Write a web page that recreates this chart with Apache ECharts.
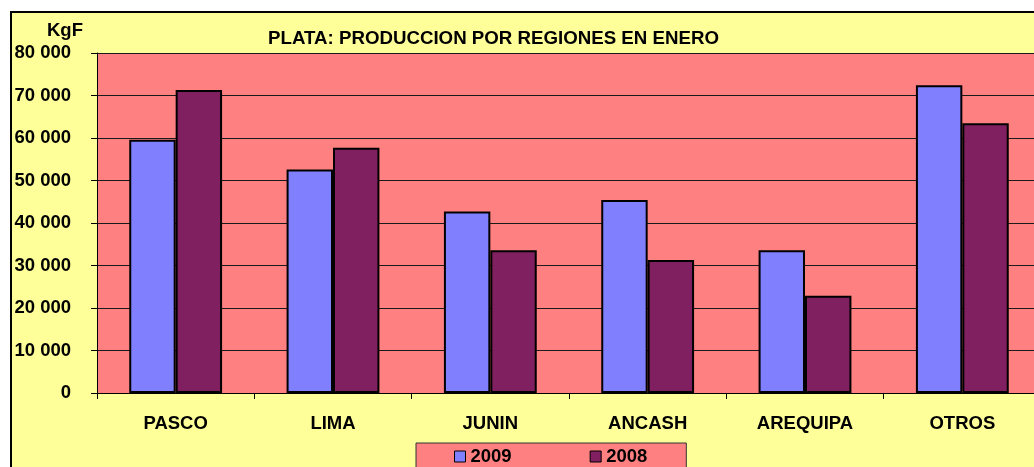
<!DOCTYPE html>
<html>
<head>
<meta charset="utf-8">
<script src="https://cdn.jsdelivr.net/npm/echarts@6/dist/echarts.min.js"></script>
<style>
  html, body { margin: 0; padding: 0; background: #fff; }
  #chart { width: 1034px; height: 467px; }
</style>
</head>
<body>
<div id="chart"></div>
<script>
const regiones = ['PASCO', 'LIMA', 'JUNIN', 'ANCASH', 'AREQUIPA', 'OTROS'];
const prod2009 = [59600, 52600, 42700, 45400, 33600, 72400];
const prod2008 = [71300, 57700, 33600, 31300, 22900, 63500];
const yTicks = [0, 10000, 20000, 30000, 40000, 50000, 60000, 70000, 80000];

const fuente = 'Liberation Sans, Arial, sans-serif';
const chart = echarts.init(document.getElementById('chart'));

// miles con espacio: 80 000
const fmt = v => String(v).replace(/\B(?=(\d{3})+(?!\d))/g, ' ');

chart.setOption({
  backgroundColor: '#fff',
  animation: false,
  graphic: [
    { type: 'rect', z: -10, shape: { x: 11, y: 12, width: 1100, height: 500 },
      style: { fill: '#FFFF99', stroke: '#000', lineWidth: 2 } },
    { type: 'text', x: 47, y: 21, style: { text: 'KgF', font: 'bold 18.5px ' + fuente, fill: '#000' } }
  ],
  title: {
    text: 'PLATA: PRODUCCION POR REGIONES EN ENERO',
    left: 268, top: 29, padding: 0,
    textStyle: { fontFamily: fuente, fontWeight: 'bold', fontSize: 18.7, color: '#000' }
  },
  legend: {
    left: 416, top: 443,
    padding: [4, 39, 8, 38],
    itemGap: 78,
    itemWidth: 11, itemHeight: 11,
    icon: 'rect',
    backgroundColor: '#FF8080',
    borderColor: '#333', borderWidth: 1,
    textStyle: { fontFamily: fuente, fontWeight: 'bold', fontSize: 18.5, color: '#000' },
    itemStyle: { borderColor: '#000', borderWidth: 1 },
    data: ['2009', '2008']
  },
  grid: {
    left: 97, top: 53, width: 944, bottom: 74,
    outerBoundsMode: 'none',
    show: true, backgroundColor: '#FF8080', borderWidth: 0
  },
  xAxis: {
    type: 'category',
    data: regiones,
    axisLine: { lineStyle: { color: '#000', width: 1 } },
    axisTick: { show: true, length: 6, lineStyle: { color: '#000' } },
    axisLabel: { margin: 21, color: '#000', fontFamily: fuente, fontWeight: 'bold', fontSize: 18.5 }
  },
  yAxis: {
    type: 'value',
    min: yTicks[0], max: yTicks[yTicks.length - 1], interval: 10000,
    axisLine: { show: true, lineStyle: { color: '#000', width: 1 } },
    axisTick: { show: true, length: 6, lineStyle: { color: '#000' } },
    splitLine: { lineStyle: { color: '#1a1a1a', width: 1 } },
    axisLabel: { margin: 26, color: '#000', fontFamily: fuente, fontWeight: 'bold', fontSize: 18.5, formatter: fmt }
  },
  series: [
    {
      name: '2009', type: 'bar', data: prod2009,
      barGap: '0%', barCategoryGap: '41%',
      itemStyle: { color: '#8080FF', borderColor: '#000', borderWidth: 2 }
    },
    {
      name: '2008', type: 'bar', data: prod2008,
      itemStyle: { color: '#802060', borderColor: '#000', borderWidth: 2 }
    }
  ]
});
</script>
</body>
</html>
